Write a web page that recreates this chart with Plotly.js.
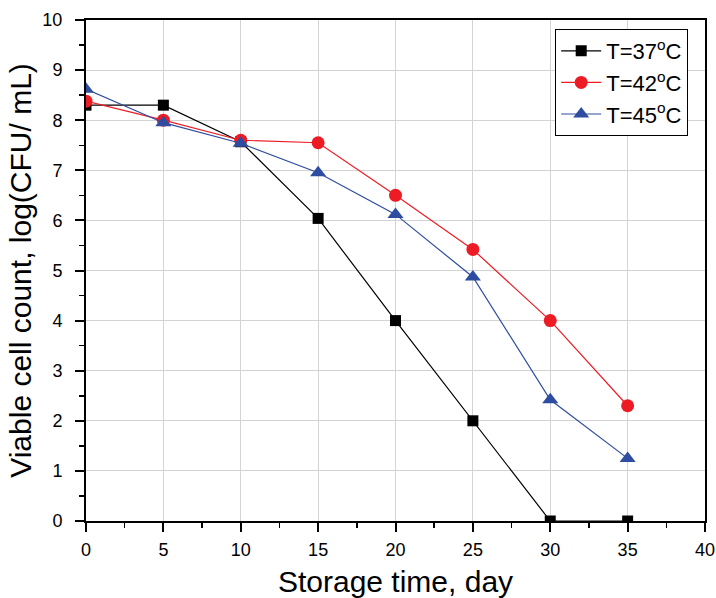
<!DOCTYPE html>
<html>
<head>
<meta charset="utf-8">
<script src="https://cdn.plot.ly/plotly-3.0.1.min.js"></script>
<style>html,body{margin:0;padding:0;background:#fff}#chart{width:716px;height:598px}</style>
</head>
<body>
<div id="chart"></div>
<script>
const days = [0, 5, 10, 15, 20, 25, 30, 35];
const t37 = [8.3, 8.3, 7.57, 6.04, 4.0, 2.0, 0.0, 0.0];
const t42 = [8.38, 8.0, 7.6, 7.55, 6.5, 5.42, 4.0, 2.3];
const t45 = [8.62, 7.95, 7.54, 6.95, 6.12, 4.87, 2.42, 1.25];
const names = ["T=37<sup>o</sup>C", "T=42<sup>o</sup>C", "T=45<sup>o</sup>C"];
const xTitle = "Storage time, day";
const yTitle = "Viable cell count, log(CFU/ mL)";

const font = "Liberation Sans, Arial, sans-serif";
const traces = [
  {x: days, y: t37, name: names[0], mode: "lines+markers",
   line: {color: "#000000", width: 1.2}, marker: {symbol: "square", size: 11, color: "#000000"}},
  {x: days, y: t42, name: names[1], mode: "lines+markers",
   line: {color: "#ED1C24", width: 1.2}, marker: {symbol: "circle", size: 13, color: "#ED1C24"}},
  {x: days, y: t45, name: names[2], mode: "lines+markers",
   line: {color: "#2F4DA0", width: 1.2}, marker: {symbol: "triangle-up", size: 14, color: "#2F4DA0"}}
];
const axisCommon = {
  showline: true, linecolor: "#000", linewidth: 2, mirror: true,
  showgrid: true, gridcolor: "#d3d3d3", gridwidth: 1,
  ticks: "outside", ticklen: 9, tickwidth: 2, tickcolor: "#000",
  zeroline: false,
  tickfont: {family: font, size: 18, color: "#000"},
  minor: {ticks: "outside", ticklen: 5, tickwidth: 1.5, tickcolor: "#000", showgrid: false}
};
const layout = {
  width: 716, height: 598,
  margin: {l: 86, r: 11, t: 20, b: 77},
  paper_bgcolor: "#fff", plot_bgcolor: "#fff",
  showlegend: true,
  legend: {x: 0.758, y: 0.982, xanchor: "left", yanchor: "top",
    bordercolor: "#000", borderwidth: 1, bgcolor: "#fff",
    font: {family: font, size: 22, color: "#000"}, tracegroupgap: 0, itemwidth: 40},
  xaxis: Object.assign({}, axisCommon, {range: [0, 40], dtick: 5, ticklabelstandoff: 2,
    minor: Object.assign({}, axisCommon.minor, {dtick: 2.5}),
    title: {text: xTitle, font: {family: font, size: 30, color: "#000"}, standoff: 12}}),
  yaxis: Object.assign({}, axisCommon, {range: [0, 10], dtick: 1, ticklabelstandoff: 9,
    minor: Object.assign({}, axisCommon.minor, {dtick: 0.5}),
    title: {text: yTitle, font: {family: font, size: 30, color: "#000"}, standoff: 2}})
};
Plotly.newPlot("chart", traces, layout, {displayModeBar: false, staticPlot: true});
</script>
</body>
</html>
